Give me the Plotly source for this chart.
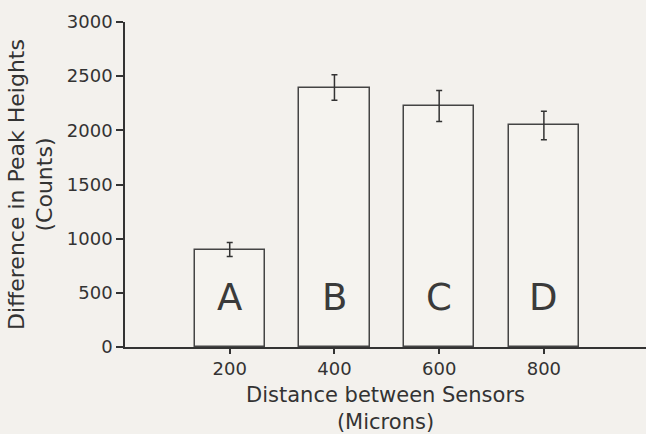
import plotly.graph_objects as go

distances = [200, 400, 600, 800]
peak_diff = [900, 2395, 2225, 2045]
peak_err = [65, 118, 143, 132]
letters = ["A", "B", "C", "D"]
y_ticks = [0, 500, 1000, 1500, 2000, 2500, 3000]

BG = "#f3f1ed"
INK = "#333333"
FONT = "DejaVu Sans"

fig = go.Figure()
fig.add_trace(go.Bar(
    x=distances, y=peak_diff, width=134,
    marker=dict(color="#f5f3ef", line=dict(color="#444444", width=1.5)),
    error_y=dict(type="data", array=peak_err, color=INK, thickness=1.5, width=3),
    showlegend=False, hoverinfo="skip",
))

for d, l in zip(distances, letters):
    fig.add_annotation(x=d, y=460, text=l, showarrow=False,
                       font=dict(family=FONT, size=37, color="#3a3a3a"),
                       xanchor="center", yanchor="middle")

common_x = dict(range=[0, 995], tickvals=distances, tickwidth=1.5, tickcolor=INK,
                showgrid=False, zeroline=False)
common_y = dict(range=[0, 3000], tickvals=y_ticks, tickwidth=1.5, tickcolor=INK,
                showgrid=False, zeroline=False)

fig.update_layout(
    width=646, height=434,
    margin=dict(l=125, r=0, t=22, b=87),
    paper_bgcolor=BG, plot_bgcolor=BG,
    font=dict(family=FONT, color=INK),
    bargap=0,
    xaxis=dict(**common_x, ticks="outside", ticklen=5, showline=True, linewidth=1.5,
               linecolor=INK, tickfont=dict(size=18, color=INK),
               title=dict(text="Distance between Sensors<br>(Microns)",
                          font=dict(size=21, color=INK), standoff=14)),
    yaxis=dict(**common_y, ticks="outside", ticklen=7, showline=True, linewidth=1.5,
               linecolor=INK, tickfont=dict(size=18, color=INK),
               title=dict(text="Difference in Peak Heights<br>(Counts)",
                          font=dict(size=22, color=INK), standoff=8)),
    xaxis2=dict(**common_x, overlaying="x", anchor="y", side="bottom", ticks="inside",
                ticklen=4, showticklabels=False, showline=False),
    yaxis2=dict(**common_y, overlaying="y", anchor="x", side="left", ticks="inside",
                ticklen=3, showticklabels=False, showline=False),
)

fig.write_html(
    "out.html",
    config={"displayModeBar": False},
    post_script="document.body.style.margin='0';document.body.style.overflow='hidden';"
                "document.body.style.background='" + BG + "';",
)
